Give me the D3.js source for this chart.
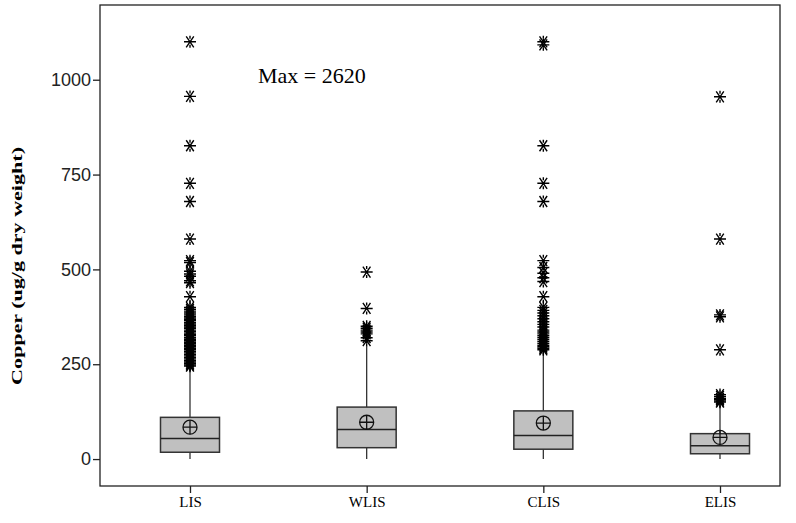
<!DOCTYPE html>
<html>
<head>
<meta charset="utf-8">
<script src="https://cdn.jsdelivr.net/npm/d3@7"></script>
<style>
  body { margin: 0; background: #fff; }
  svg { display: block; }
</style>
</head>
<body>
<div id="chart"></div>
<script>
// box summaries
const categories = ['LIS', 'WLIS', 'CLIS', 'ELIS'];
const q1 = [18, 30, 26, 14];
const median = [54, 78, 62, 35];
const q3 = [110, 137, 127, 67];
const mean = [84, 97, 95, 57];
const whiskerLow = [0, 0, 0, 0];
const whiskerHigh = [240, 296, 280, 140];

const outliersLIS = [1100, 956, 826, 727, 679, 580, 523, 518, 495, 488, 482, 470, 465, 428,
  400, 395, 390, 385, 380, 376, 372, 368, 365, 360, 356, 352, 348, 345, 340, 336, 332, 328,
  325, 320, 316, 312, 308, 304, 300, 296, 292, 288, 284, 280, 276, 272, 268, 264, 260, 256,
  252, 248, 245];
const outliersWLIS = [493, 397, 350, 345, 340, 335, 330, 320, 312];
const outliersCLIS = [1100, 1092, 826, 727, 679, 523, 505, 490, 478, 468, 428, 400, 392, 385,
  378, 370, 362, 355, 348, 340, 335, 330, 325, 320, 315, 310, 305, 300, 296, 292, 288];
const outliersELIS = [955, 580, 380, 375, 288, 170, 165, 160, 157, 153, 150];
const outliers = [outliersLIS, outliersWLIS, outliersCLIS, outliersELIS];

const yTicks = [0, 250, 500, 750, 1000];
const note = 'Max = 2620';
const yLabel = 'Copper (ug/g dry weight)';

const W = 796, H = 523;
const margin = { top: 5, right: 16, bottom: 37, left: 100 };
const width = W - margin.left - margin.right;
const height = H - margin.top - margin.bottom;

const svg = d3.select('#chart').append('svg')
  .attr('width', W)
  .attr('height', H);

const g = svg.append('g')
  .attr('transform', 'translate(' + margin.left + ',' + margin.top + ')');

const x = d3.scalePoint()
  .domain(categories)
  .range([90, 620]);

const y = d3.scaleLinear()
  .domain([-71, 1197])
  .range([height, 0]);

// frame
g.append('rect')
  .attr('width', width)
  .attr('height', height)
  .attr('fill', 'none')
  .attr('stroke', '#222')
  .attr('stroke-width', 1.3);

// axes
const yAxis = g.append('g')
  .call(d3.axisLeft(y).tickValues(yTicks).tickFormat(d3.format('d')).tickSize(7).tickSizeOuter(0));
yAxis.select('.domain').remove();
yAxis.selectAll('line').attr('stroke', '#222').attr('stroke-width', 1.3);
yAxis.selectAll('text')
  .attr('fill', '#222')
  .attr('x', -9)
  .style('font-family', 'Liberation Sans, Arial, sans-serif')
  .style('font-size', '18px');

const xAxis = g.append('g')
  .attr('transform', 'translate(0,' + height + ')')
  .call(d3.axisBottom(x).tickSize(7).tickSizeOuter(0));
xAxis.select('.domain').remove();
xAxis.selectAll('line').attr('stroke', '#222').attr('stroke-width', 1.3);
xAxis.selectAll('text')
  .attr('fill', '#000')
  .attr('y', 10)
  .style('font-family', 'Liberation Serif, Times New Roman, serif')
  .style('font-size', '15px');

// y label
svg.append('text')
  .attr('transform', 'translate(22,' + 266 + ')rotate(-90)')
  .attr('text-anchor', 'middle')
  .attr('textLength', 238)
  .attr('lengthAdjust', 'spacingAndGlyphs')
  .style('font-family', 'Liberation Serif, Times New Roman, serif')
  .style('font-weight', 'bold')
  .style('font-size', '15.5px')
  .text(yLabel);

// annotation
g.append('text')
  .attr('x', 158)
  .attr('y', y(1000) + 3)
  .style('font-family', 'Liberation Serif, Times New Roman, serif')
  .style('font-size', '22px')
  .text(note);

const boxW = 59;
const stroke = '#333';

const boxes = g.selectAll('.box')
  .data(categories)
  .enter()
  .append('g')
  .attr('class', 'box');

// whiskers
boxes.append('line')
  .attr('x1', (d) => x(d)).attr('x2', (d) => x(d))
  .attr('y1', (d, i) => y(q3[i])).attr('y2', (d, i) => y(whiskerHigh[i]))
  .attr('stroke', stroke).attr('stroke-width', 1.3);
boxes.append('line')
  .attr('x1', (d) => x(d)).attr('x2', (d) => x(d))
  .attr('y1', (d, i) => y(q1[i])).attr('y2', (d, i) => y(whiskerLow[i]))
  .attr('stroke', stroke).attr('stroke-width', 1.3);

boxes.append('rect')
  .attr('x', (d) => x(d) - boxW / 2)
  .attr('width', boxW)
  .attr('y', (d, i) => y(q3[i]))
  .attr('height', (d, i) => y(q1[i]) - y(q3[i]))
  .attr('fill', '#c0c0c0')
  .attr('stroke', stroke)
  .attr('stroke-width', 1.5);

boxes.append('line')
  .attr('x1', (d) => x(d) - boxW / 2).attr('x2', (d) => x(d) + boxW / 2)
  .attr('y1', (d, i) => y(median[i])).attr('y2', (d, i) => y(median[i]))
  .attr('stroke', '#222').attr('stroke-width', 1.5);

// outliers as asterisks
const star = 'M-6,0H6M-3.8,-5.5L3.8,5.5M-3.8,5.5L3.8,-5.5M0,-6V-3M0,3V6';
categories.forEach((c, i) => {
  g.selectAll('.out' + i)
    .data(outliers[i])
    .enter()
    .append('path')
    .attr('transform', (v) => 'translate(' + x(c) + ',' + y(v) + ')')
    .attr('d', star)
    .attr('fill', 'none')
    .attr('stroke', '#000')
    .attr('stroke-width', 1.4);
});

// mean symbol: circle with cross
const means = boxes.append('g')
  .attr('transform', (d, i) => 'translate(' + x(d) + ',' + y(mean[i]) + ')');
means.append('circle')
  .attr('r', 7)
  .attr('fill', 'none')
  .attr('stroke', '#111')
  .attr('stroke-width', 1.3);
means.append('path')
  .attr('d', 'M-7,0H7M0,-7V7')
  .attr('stroke', '#111')
  .attr('stroke-width', 1.3);
</script>
</body>
</html>
